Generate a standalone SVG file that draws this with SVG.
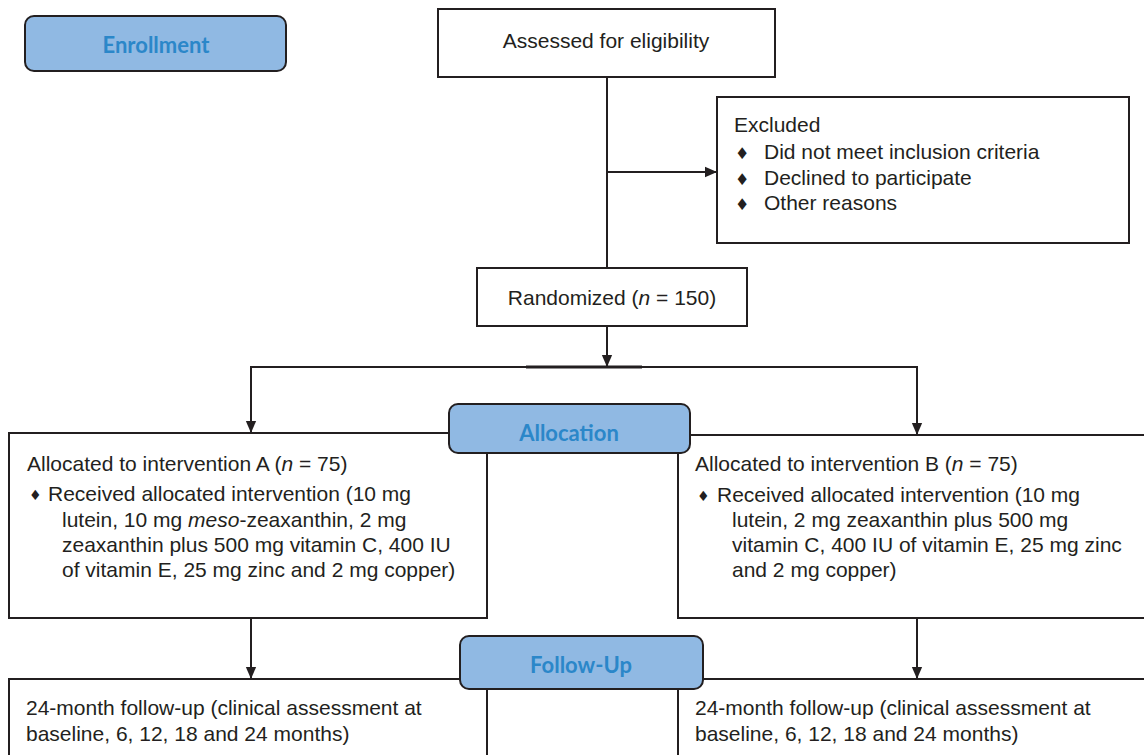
<svg xmlns="http://www.w3.org/2000/svg" width="1144" height="755" viewBox="0 0 1144 755">
<defs>
<marker id="ah" markerWidth="12" markerHeight="14" viewBox="0 0 14 12" refX="14" refY="6" orient="auto" markerUnits="userSpaceOnUse">
<path d="M0,0 L14,6 L0,12 Z" fill="#231f20"/>
</marker>
<style>
.box{fill:#fff;stroke:#231f20;stroke-width:2}
.lbl{fill:#90b9e3;stroke:#231f20;stroke-width:2}
.lt{font-family:Lato,"Open Sans",sans-serif;font-weight:bold;font-size:22px;fill:#2b87c9;text-anchor:middle}
.t{font-family:"Liberation Sans",Arial,sans-serif;font-size:21px;fill:#231f20}
.b{font-family:"DejaVu Sans",sans-serif;font-size:16px;fill:#231f20}
.bs{font-family:"DejaVu Sans",sans-serif;font-size:14px;fill:#231f20}
.c{stroke:#231f20;stroke-width:2;fill:none}
</style>
</defs>
<rect width="1144" height="755" fill="#fff"/>

<g id="connectors">
<line class="c" x1="607" y1="77" x2="607" y2="268"/>
<line class="c" x1="607" y1="172" x2="717" y2="172" marker-end="url(#ah)"/>
<line class="c" x1="607" y1="326" x2="607" y2="367" marker-end="url(#ah)"/>
<line class="c" x1="250" y1="367" x2="918" y2="367"/>
<line x1="526" y1="367" x2="642" y2="367" stroke="#231f20" stroke-width="3"/>
<line class="c" x1="251" y1="366" x2="251" y2="433" marker-end="url(#ah)"/>
<line class="c" x1="917" y1="366" x2="917" y2="435" marker-end="url(#ah)"/>
<line class="c" x1="251" y1="618" x2="251" y2="679" marker-end="url(#ah)"/>
<line class="c" x1="917" y1="618" x2="917" y2="679" marker-end="url(#ah)"/>
</g>

<g id="enrollment">
<rect class="lbl" x="25" y="16" width="261" height="55" rx="9"/>
<text class="lt" x="156" y="53">Enrollment</text>
</g>

<g id="assessed">
<rect class="box" x="438" y="9" width="337" height="68"/>
<text class="t" x="606" y="48" text-anchor="middle">Assessed for eligibility</text>
</g>

<g id="excluded">
<rect class="box" x="717" y="97" width="412" height="146"/>
<text class="t" x="734" y="132">Excluded</text>
<text class="b" x="735" y="159">♦</text>
<text class="t" x="764" y="159">Did not meet inclusion criteria</text>
<text class="b" x="735" y="185">♦</text>
<text class="t" x="764" y="185">Declined to participate</text>
<text class="b" x="735" y="210">♦</text>
<text class="t" x="764" y="210">Other reasons</text>
</g>

<g id="randomized">
<rect class="box" x="477" y="268" width="270" height="58"/>
<text class="t" x="612" y="305" text-anchor="middle">Randomized (<tspan font-style="italic">n</tspan> = 150)</text>
</g>

<g id="groupA">
<rect class="box" x="9" y="433" width="478" height="185"/>
<text class="t" x="27" y="471">Allocated to intervention A (<tspan font-style="italic">n</tspan> = 75)</text>
<text class="bs" x="29" y="500">♦</text>
<text class="t" x="48" y="501">Received allocated intervention (10 mg</text>
<text class="t" x="62" y="527">lutein, 10 mg <tspan font-style="italic">meso</tspan>-zeaxanthin, 2 mg</text>
<text class="t" x="62" y="552">zeaxanthin plus 500 mg vitamin C, 400 IU</text>
<text class="t" x="62" y="577">of vitamin E, 25 mg zinc and 2 mg copper)</text>
</g>

<g id="groupB">
<rect class="box" x="678" y="435" width="480" height="183"/>
<text class="t" x="695" y="471">Allocated to intervention B (<tspan font-style="italic">n</tspan> = 75)</text>
<text class="bs" x="697" y="501">♦</text>
<text class="t" x="717" y="502">Received allocated intervention (10 mg</text>
<text class="t" x="732" y="527">lutein, 2 mg zeaxanthin plus 500 mg</text>
<text class="t" x="732" y="552">vitamin C, 400 IU of vitamin E, 25 mg zinc</text>
<text class="t" x="732" y="577">and 2 mg copper)</text>
</g>

<g id="allocation">
<rect class="lbl" x="449" y="404" width="241" height="49" rx="9"/>
<text class="lt" x="569" y="441">Allocation</text>
</g>

<g id="followA">
<rect class="box" x="9" y="679" width="478" height="90"/>
<text class="t" x="26" y="715">24-month follow-up (clinical assessment at</text>
<text class="t" x="26" y="741">baseline, 6, 12, 18 and 24 months)</text>
</g>

<g id="followB">
<rect class="box" x="678" y="679" width="480" height="90"/>
<text class="t" x="695" y="715">24-month follow-up (clinical assessment at</text>
<text class="t" x="695" y="741">baseline, 6, 12, 18 and 24 months)</text>
</g>

<g id="followup">
<rect class="lbl" x="460" y="636" width="243" height="53" rx="9"/>
<text class="lt" x="581" y="673">Follow-Up</text>
</g>
</svg>
